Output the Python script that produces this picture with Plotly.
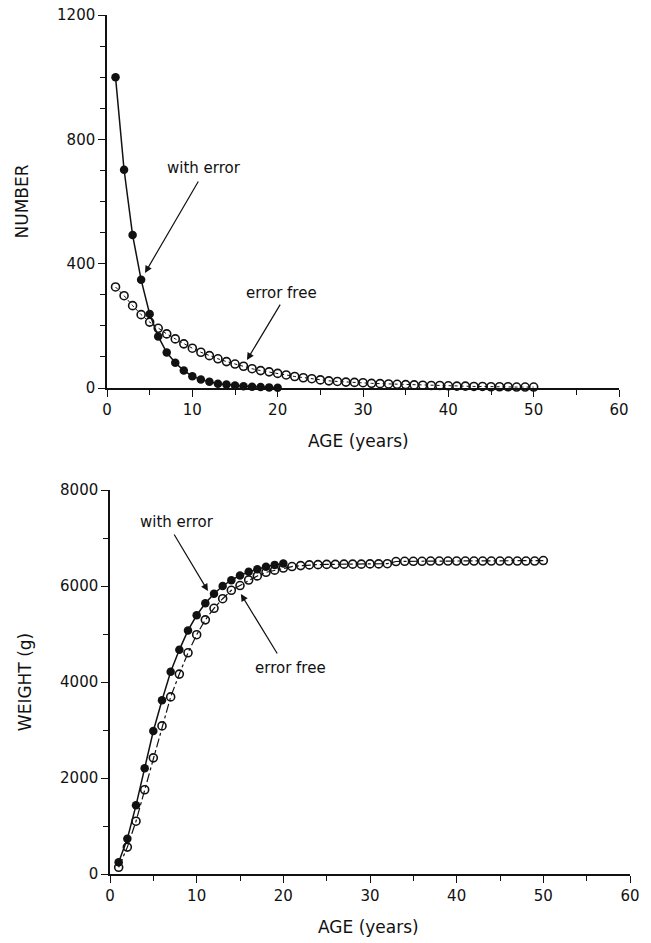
import plotly.graph_objects as go

# ---------------- data ----------------
age_err_top = list(range(1, 21))
number_with_error = [1000, 702, 492, 348, 238, 166, 114, 81, 56, 38,
                     27, 20, 14, 11, 8, 6, 4, 3, 2, 1]
age_free_top = list(range(1, 51))
number_error_free = [325, 297, 265, 236, 212, 192, 174, 158, 142, 128,
                     115, 104, 94, 85, 77, 70, 62, 56, 52, 47,
                     42, 37, 33, 30, 26, 23, 21, 19, 18, 17,
                     15, 14, 13, 12, 11, 10, 9, 8, 8, 7,
                     6, 6, 5, 5, 4, 4, 4, 3, 3, 3]

age_err_bot = list(range(1, 21))
weight_with_error = [245, 735, 1430, 2205, 2980, 3620, 4215, 4670, 5075, 5390,
                     5640, 5840, 6000, 6120, 6220, 6295, 6350, 6400, 6440, 6470]
age_free_bot = list(range(1, 51))
weight_error_free = [140, 560, 1100, 1755, 2420, 3085, 3690, 4165, 4608, 4985,
                     5295, 5535, 5735, 5910, 6010, 6125, 6210, 6285, 6330, 6375,
                     6405, 6425, 6440, 6445, 6450, 6450, 6455, 6455, 6455, 6460,
                     6460, 6465, 6510, 6515, 6515, 6515, 6520, 6520, 6520, 6520,
                     6520, 6520, 6520, 6520, 6520, 6520, 6520, 6520, 6520, 6530]

number_ticks = [0, 400, 800, 1200]
weight_ticks = [0, 2000, 4000, 6000, 8000]
age_ticks = [0, 10, 20, 30, 40, 50, 60]

FONT = "DejaVu Sans"
BLACK = "#111111"

fig = go.Figure()

# top panel
fig.add_trace(go.Scatter(x=age_err_top, y=number_with_error, mode="lines+markers",
                         line=dict(color=BLACK, width=1.5),
                         marker=dict(symbol="circle", size=8.5, color=BLACK),
                         xaxis="x", yaxis="y", cliponaxis=False, showlegend=False))
fig.add_trace(go.Scatter(x=age_free_top, y=number_error_free, mode="lines+markers",
                         line=dict(color=BLACK, width=1, dash="dot"),
                         marker=dict(symbol="circle-open", size=8, color=BLACK,
                                     line=dict(width=1.6)),
                         xaxis="x", yaxis="y", cliponaxis=False, showlegend=False))
# bottom panel
fig.add_trace(go.Scatter(x=age_err_bot, y=weight_with_error, mode="lines+markers",
                         line=dict(color=BLACK, width=1.5),
                         marker=dict(symbol="circle", size=8.5, color=BLACK),
                         xaxis="x2", yaxis="y2", cliponaxis=False, showlegend=False))
fig.add_trace(go.Scatter(x=age_free_bot, y=weight_error_free, mode="lines+markers",
                         line=dict(color=BLACK, width=1.2, dash="dashdot"),
                         marker=dict(symbol="circle-open", size=8, color=BLACK,
                                     line=dict(width=1.6)),
                         xaxis="x2", yaxis="y2", cliponaxis=False, showlegend=False))

tick_font = dict(family=FONT, size=15, color=BLACK)
title_font = dict(family=FONT, size=17, color=BLACK)
axis_common = dict(showline=True, linecolor=BLACK, linewidth=1.5, showgrid=False,
                   zeroline=False, ticks="outside", ticklen=7, tickwidth=1.3,
                   tickcolor=BLACK, tickfont=tick_font, automargin=False)

fig.update_layout(
    width=651, height=943,
    margin=dict(l=0, r=0, t=0, b=0),
    paper_bgcolor="white", plot_bgcolor="white",
    xaxis=dict(axis_common, domain=[107/651, 619/651], range=[0, 60],
               tickvals=age_ticks, anchor="y",
               minor=dict(dtick=5, ticks="outside", ticklen=5, tickcolor=BLACK)),
    yaxis=dict(axis_common, domain=[1-388/943, 1-15/943], range=[0, 1200],
               tickvals=number_ticks, anchor="x",
               title=dict(text="NUMBER", font=title_font, standoff=24),
               minor=dict(dtick=100, ticks="outside", ticklen=5, tickcolor=BLACK)),
    xaxis2=dict(axis_common, domain=[110/651, 630/651], range=[0, 60],
                tickvals=age_ticks, anchor="y2",
                minor=dict(dtick=5, ticks="outside", ticklen=5, tickcolor=BLACK)),
    yaxis2=dict(axis_common, domain=[1-874/943, 1-490/943], range=[0, 8000],
                tickvals=weight_ticks, anchor="x2",
                title=dict(text="WEIGHT (g)", font=title_font, standoff=24),
                minor=dict(dtick=1000, ticks="outside", ticklen=5, tickcolor=BLACK)),
)

ann_font = dict(family=FONT, size=15, color=BLACK)

annotations = [
    # top panel labels + arrows
    dict(x=11.4, y=708, xref="x", yref="y", text="with error", showarrow=False, font=ann_font),
    dict(x=4.45, y=370, xref="x", yref="y", ax=10.8, ay=669, axref="x", ayref="y",
         showarrow=True, arrowhead=2, arrowsize=1.2, arrowwidth=1.2, arrowcolor=BLACK, text=""),
    dict(x=20.4, y=306, xref="x", yref="y", text="error free", showarrow=False, font=ann_font),
    dict(x=16.4, y=90, xref="x", yref="y", ax=20.4, ay=273, axref="x", ayref="y",
         showarrow=True, arrowhead=2, arrowsize=1.2, arrowwidth=1.2, arrowcolor=BLACK, text=""),
    # bottom panel labels + arrows
    dict(x=7.7, y=7333, xref="x2", yref="y2", text="with error", showarrow=False, font=ann_font),
    dict(x=11.3, y=5896, xref="x2", yref="y2", ax=7.3, ay=7104, axref="x2", ayref="y2",
         showarrow=True, arrowhead=2, arrowsize=1.2, arrowwidth=1.2, arrowcolor=BLACK, text=""),
    dict(x=20.8, y=4292, xref="x2", yref="y2", text="error free", showarrow=False, font=ann_font),
    dict(x=15.1, y=5833, xref="x2", yref="y2", ax=19.4, ay=4562, axref="x2", ayref="y2",
         showarrow=True, arrowhead=2, arrowsize=1.2, arrowwidth=1.2, arrowcolor=BLACK, text=""),
    # x axis titles
    dict(x=358/651, y=1-441/943, xref="paper", yref="paper", text="AGE (years)",
         xanchor="center", yanchor="middle", showarrow=False, font=title_font),
    dict(x=368/651, y=1-927/943, xref="paper", yref="paper", text="AGE (years)",
         xanchor="center", yanchor="middle", showarrow=False, font=title_font),
]
fig.update_layout(annotations=annotations)

fig.write_html("out.html")
